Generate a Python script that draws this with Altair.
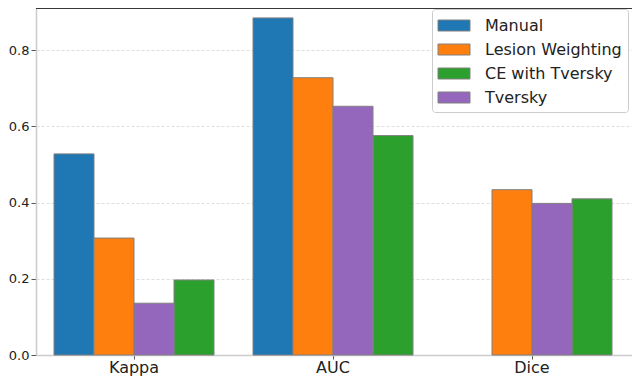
import altair as alt
import pandas as pd

categories = ["Kappa", "AUC", "Dice"]
legend_order = ["Manual", "Lesion Weighting", "CE with Tversky", "Tversky"]
bar_order = ["Manual", "Lesion Weighting", "Tversky", "CE with Tversky"]
colors = ["#1f77b4", "#ff7f0e", "#2ca02c", "#9467bd"]

manual = [0.528, 0.885, None]
lesion_weighting = [0.307, 0.728, 0.434]
ce_with_tversky = [0.197, 0.576, 0.410]
tversky = [0.136, 0.653, 0.398]

series = {
    "Manual": manual,
    "Lesion Weighting": lesion_weighting,
    "CE with Tversky": ce_with_tversky,
    "Tversky": tversky,
}
rows = []
for name, vals in series.items():
    for c, v in zip(categories, vals):
        if v is not None:
            rows.append({"metric": c, "method": name, "value": v})
df = pd.DataFrame(rows)

W, H = 596, 347

bars = alt.Chart(df).mark_bar(stroke="#808080", strokeWidth=1).encode(
    x=alt.X(
        "metric:N",
        sort=categories,
        scale=alt.Scale(paddingInner=0.19598, paddingOuter=0.09548, align=0.4737),
        axis=alt.Axis(
            title=None, labelAngle=0, labelFontSize=16, labelColor="#222222",
            tickSize=4, tickColor="#555555", tickWidth=1, labelPadding=0,
            domainColor="#cccccc", domainWidth=1.5, grid=False,
        ),
    ),
    xOffset=alt.XOffset(
        "method:N", sort=bar_order,
        scale=alt.Scale(domain=bar_order, paddingInner=0, paddingOuter=0),
    ),
    y=alt.Y(
        "value:Q",
        scale=alt.Scale(domain=[0, 0.911], nice=False, zero=True),
        axis=alt.Axis(
            title=None, values=[0.0, 0.2, 0.4, 0.6, 0.8], format=".1f",
            labelFontSize=13, labelColor="#222222", tickSize=5, tickColor="#555555",
            tickWidth=1, labelPadding=2, domainColor="#cccccc", domainWidth=1.5,
            grid=True, gridColor="#d5d5d5", gridDash=[3, 2], gridWidth=0.8,
        ),
    ),
    color=alt.Color(
        "method:N",
        scale=alt.Scale(domain=legend_order, range=colors),
        legend=alt.Legend(
            title=None, orient="none", legendX=396, legendY=1,
            symbolType="M-1.6,-0.55H1.6V0.55H-1.6Z", symbolSize=400,
            symbolStrokeColor="#808080", symbolStrokeWidth=1,
            symbolOffset=5.5, labelOffset=20.5, labelFontSize=16,
            labelColor="#222222", labelLimit=300, rowPadding=5, padding=6,
            strokeColor="#cccccc", fillColor="white", cornerRadius=3,
        ),
    ),
)

top_line = alt.Chart(pd.DataFrame({"k": [0]})).mark_rule(color="black", strokeWidth=1.5).encode(
    x=alt.value(0), x2=alt.value(W), y=alt.value(0)
)

chart = alt.layer(bars, top_line).properties(
    width=W, height=H,
    padding={"left": 28, "top": 0, "right": 0, "bottom": 22},
    autosize=alt.AutoSizeParams(type="none"),
).configure_view(stroke=None).configure(font="DejaVu Sans")

chart.save("out.html", embed_options={"renderer": "svg", "actions": False})
